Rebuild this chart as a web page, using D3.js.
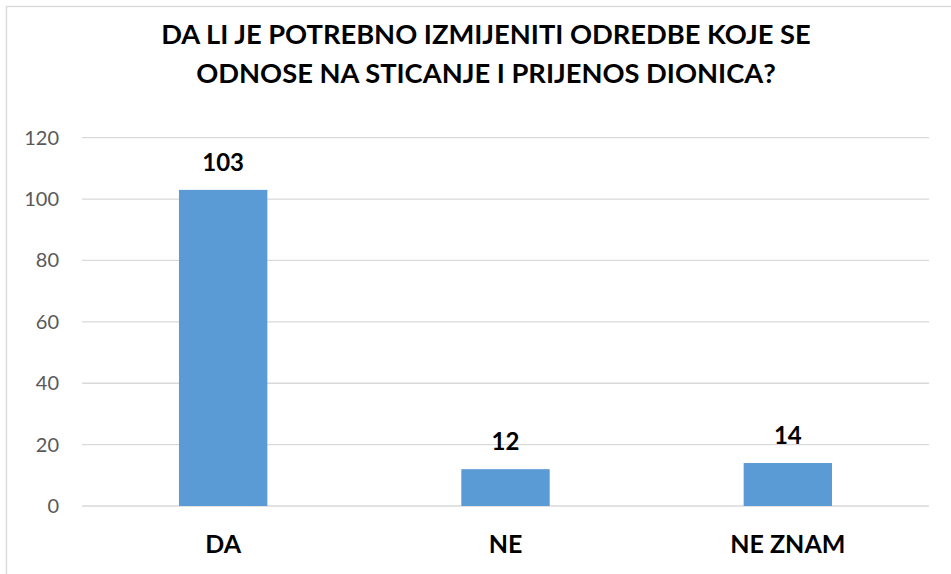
<!DOCTYPE html>
<html>
<head>
<meta charset="utf-8">
<script src="https://cdn.jsdelivr.net/npm/d3@7"></script>
<style>
  body { margin: 0; background: #fff; }
  svg { display: block; font-family: Lato, "Open Sans", sans-serif; }
  .grid line { stroke: #d9d9d9; stroke-width: 1.3; }
  .tick-label { fill: #595959; font-size: 20px; }
  .bar { fill: #5b9bd5; }
  .value { font-size: 24px; font-weight: bold; fill: #000; }
  .cat { font-size: 25px; font-weight: bold; fill: #000; }
  .title { font-size: 27.3px; font-weight: bold; fill: #000; }
</style>
</head>
<body>
<div id="chart"></div>
<script>
const categories = ['DA', 'NE', 'NE ZNAM'];
const values = [103, 12, 14];
const yTicks = [0, 20, 40, 60, 80, 100, 120];
const titleLines = ['DA LI JE POTREBNO IZMIJENITI ODREDBE KOJE SE', 'ODNOSE NA STICANJE I PRIJENOS DIONICA?'];

const width = 951, height = 574;
const margin = { top: 137.7, right: 22, bottom: 68, left: 82 };

let svg = d3.select('#chart')
    .append('svg')
    .attr('width', width)
    .attr('height', height);

// outer chart border (right and bottom are cut off in the original)
svg.append('rect')
    .attr('x', 6.5).attr('y', 6.5)
    .attr('width', width + 20).attr('height', height + 20)
    .attr('fill', 'none')
    .attr('stroke', '#d9d9d9')
    .attr('stroke-width', 1.3);

let x = d3.scaleBand()
    .domain(categories)
    .range([margin.left, width - margin.right])
    .paddingInner(0.687)
    .paddingOuter(0.3435);

let y = d3.scaleLinear()
    .domain([0, 120])
    .range([height - margin.bottom, margin.top]);

let grid = svg.append('g').attr('class', 'grid');
grid.selectAll('line').data(yTicks)
    .join('line')
    .attr('x1', margin.left)
    .attr('x2', width - margin.right)
    .attr('y1', d => y(d))
    .attr('y2', d => y(d));

svg.append('g').selectAll('text').data(yTicks)
    .join('text')
    .attr('class', 'tick-label')
    .attr('x', 59)
    .attr('y', d => y(d))
    .attr('dy', '0.35em')
    .attr('text-anchor', 'end')
    .text(d => d);

let data = categories.map((c, i) => ({ cat: c, val: values[i] }));

svg.selectAll('rect.bar').data(data)
    .join('rect')
    .attr('class', 'bar')
    .attr('x', d => x(d.cat))
    .attr('width', x.bandwidth())
    .attr('y', d => y(d.val))
    .attr('height', d => y(0) - y(d.val));

svg.selectAll('text.value').data(data)
    .join('text')
    .attr('class', 'value')
    .attr('x', d => x(d.cat) + x.bandwidth() / 2)
    .attr('y', d => y(d.val) - 19)
    .attr('text-anchor', 'middle')
    .text(d => d.val);

svg.selectAll('text.cat').data(data)
    .join('text')
    .attr('class', 'cat')
    .attr('x', d => x(d.cat) + x.bandwidth() / 2)
    .attr('y', 553)
    .attr('text-anchor', 'middle')
    .text(d => d.cat);

svg.selectAll('text.title').data(titleLines)
    .join('text')
    .attr('class', 'title')
    .attr('x', 486)
    .attr('y', (d, i) => 44 + i * 39)
    .attr('text-anchor', 'middle')
    .text(d => d);
</script>
</body>
</html>
